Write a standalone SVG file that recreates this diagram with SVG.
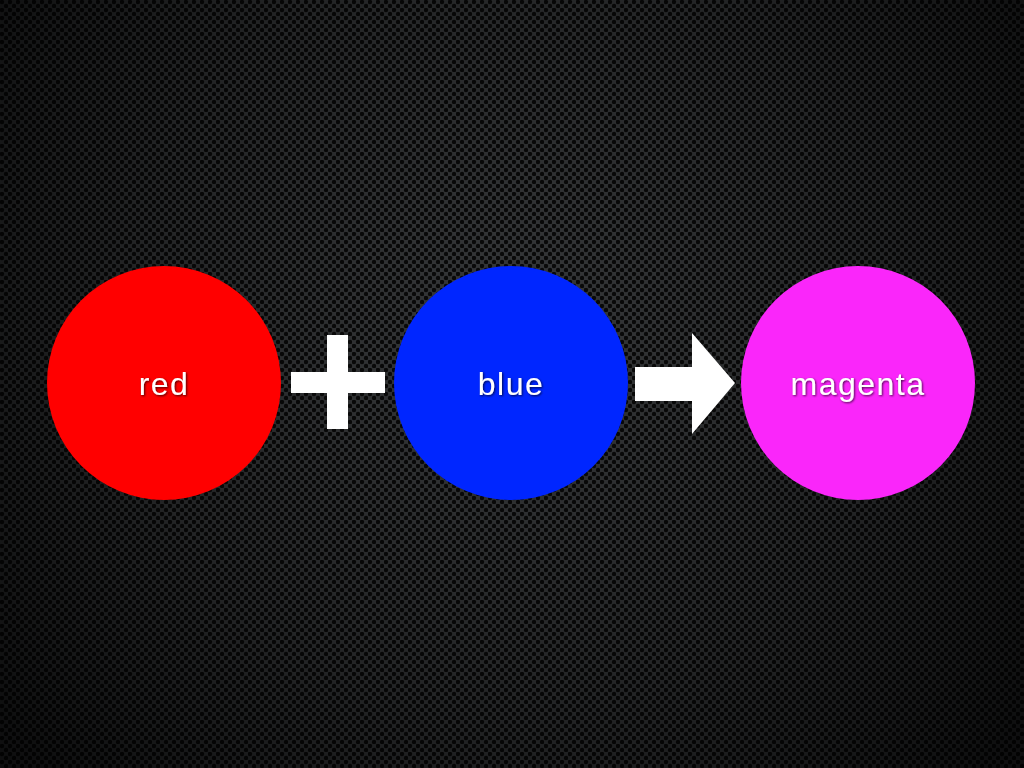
<svg xmlns="http://www.w3.org/2000/svg" width="1024" height="768" viewBox="0 0 1024 768">
<defs>
<pattern id="mesh" width="8" height="8" patternUnits="userSpaceOnUse">
<rect width="8" height="8" fill="#3a3c3e"/>
<circle cx="2" cy="2" r="2.2" fill="#0a0a0a"/>
<circle cx="6" cy="6" r="2.2" fill="#0a0a0a"/>
</pattern>
<radialGradient id="vig" cx="512" cy="330" r="640" gradientUnits="userSpaceOnUse">
<stop offset="0" stop-color="#000" stop-opacity="0.05"/>
<stop offset="0.6" stop-color="#000" stop-opacity="0.4"/>
<stop offset="1" stop-color="#000" stop-opacity="0.75"/>
</radialGradient>
<filter id="sh" x="-20%" y="-20%" width="140%" height="140%">
<feDropShadow dx="1" dy="1" stdDeviation="0.8" flood-color="#000" flood-opacity="0.7"/>
</filter>
<style>
.lbl{font-family:"Liberation Sans",Arial,sans-serif;font-size:32px;letter-spacing:1.5px;fill:#fff;text-anchor:middle;filter:url(#sh)}
.op{fill:#fff}
</style>
</defs>
<rect width="1024" height="768" fill="url(#mesh)"/>
<rect width="1024" height="768" fill="url(#vig)"/>
<g id="node-red">
<circle cx="164" cy="383" r="117" fill="#ff0000"/>
<text class="lbl" x="164" y="395">red</text>
</g>
<g id="node-blue">
<circle cx="511" cy="383" r="117" fill="#0026ff"/>
<text class="lbl" x="511" y="395">blue</text>
</g>
<g id="node-magenta">
<circle cx="858" cy="383" r="117" fill="#fa26fa"/>
<text class="lbl" x="858" y="395">magenta</text>
</g>
<g id="connectors">
<g id="plus">
<rect class="op" x="291" y="372" width="94" height="21"/>
<rect class="op" x="327" y="335" width="21" height="94"/>
</g>
<g id="arrow">
<polygon class="op" points="635,367 692,367 692,333 735,383 692,434 692,401 635,401"/>
</g>
</g>
</svg>
